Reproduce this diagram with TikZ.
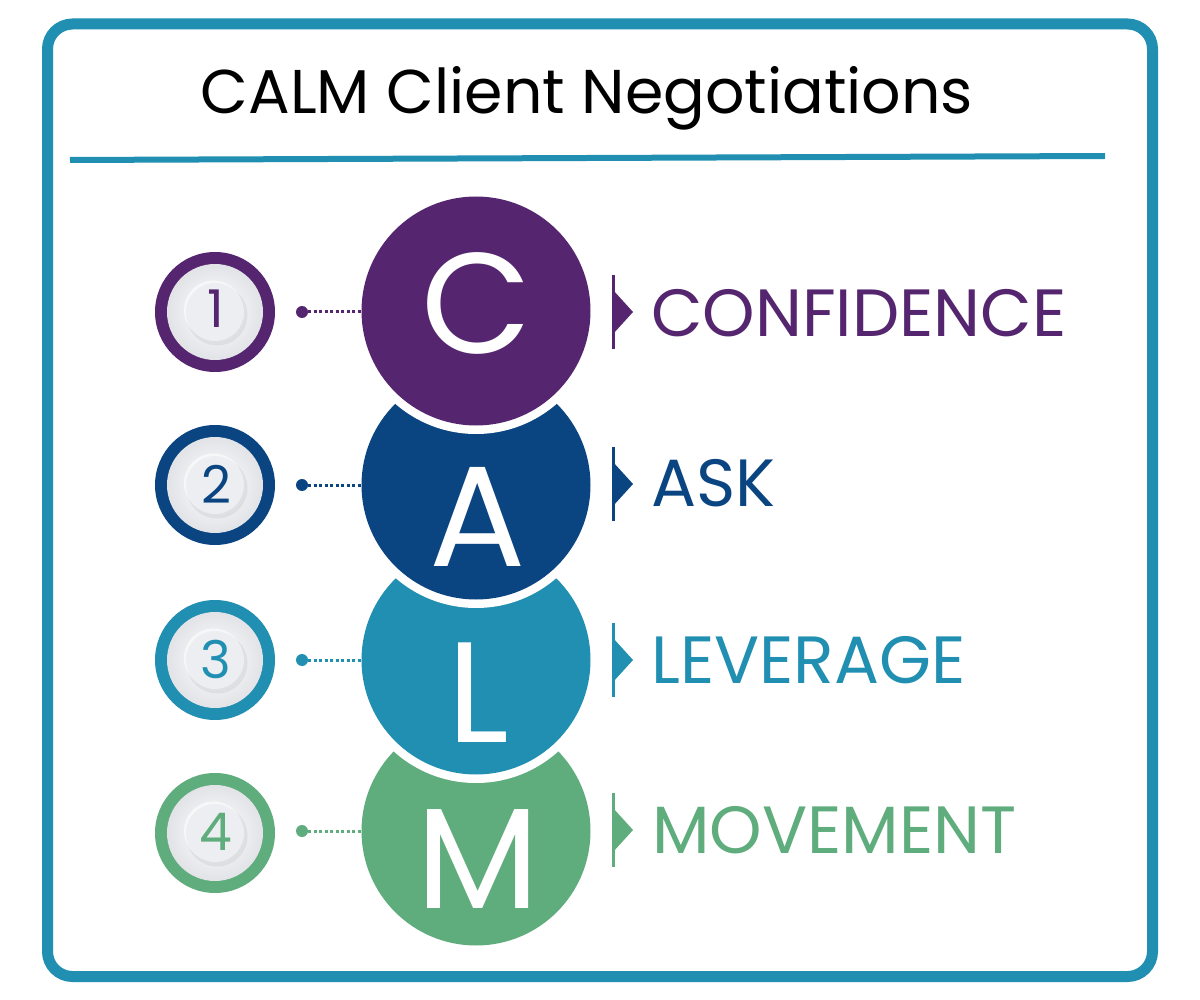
\documentclass[tikz,border=0pt]{standalone}
\usepackage{fontspec}
\setmainfont{Poppins}
\definecolor{cpur}{HTML}{55266F}
\definecolor{cnav}{HTML}{0A4582}
\definecolor{ctea}{HTML}{208FB1}
\definecolor{cgrn}{HTML}{5FAC7D}
\definecolor{bgin}{HTML}{ECEEF2}
\begin{document}
\begin{tikzpicture}[x=1pt,y=-1pt,
  bigc/.style={circle, minimum size=229pt, inner sep=0pt},
  letter/.style={anchor=base, inner sep=0pt, text=white, font=\fontsize{143}{143}\selectfont},
  ring/.style={circle, minimum size=120pt, inner sep=0pt},
  digit/.style={anchor=base, inner sep=0pt, font=\fontsize{52}{52}\selectfont},
  dotn/.style={circle, minimum size=12pt, inner sep=0pt},
  conn/.style={line width=3pt, dash pattern=on 3pt off 2.5pt},
  lab/.style={anchor=base west, inner sep=0pt, font=\fontsize{66.8}{66.8}\selectfont},
  title/.style={anchor=base, inner sep=0pt, font=\fontsize{61.8}{61.8}\selectfont}
]
\useasboundingbox (0,0) rectangle (1200,1000);
\fill[white] (0,0) rectangle (1200,1000);
% frame
\draw[ctea, line width=11pt, rounded corners=25pt] (47.5,24) rectangle (1152.5,976.5);
\node[title] (title) at (587,114) {CALM Client Negotiations};
\draw[ctea, line width=6pt] (70,160) -- (1105,156);

% big circles (bottom first)
\node[bigc, fill=cgrn] (bigM) at (476,831) {};
\fill[white] (476,660) circle (123);
\node[bigc, fill=ctea] (bigL) at (476,660) {};
\fill[white] (476,485) circle (123);
\node[bigc, fill=cnav] (bigA) at (476,485) {};
\fill[white] (476,311) circle (123);
\node[bigc, fill=cpur] (bigC) at (476,311) {};
\node[letter] (lC) at (477,354) {C};
\node[letter] (lA) at (478,566) {A};
\node[letter] (lL) at (478,742) {L};
\node[letter] (lM) at (478,908) {M};

% badges
\foreach \y/\c/\n in {312/cpur/1, 485/cnav/2, 660/ctea/3, 833/cgrn/4}{
  \node[ring, fill=\c] (badge\n) at (215,\y) {};
  \shade[inner color=white, outer color=bgin!90!gray] (badge\n.center) circle (48);
  \fill[gray, opacity=0.12] ([shift={(2,3)}]badge\n.center) circle (30.5);
  \fill[white, opacity=0.6] ([shift={(-1.5,-2)}]badge\n.center) circle (29.5);
  \fill[bgin] (badge\n.center) circle (29);
}
\node[digit, text=cpur] (n1) at (216,328) {1};
\node[digit, text=cnav] (n2) at (216,503) {2};
\node[digit, text=ctea] (n3) at (216,678) {3};
\node[digit, text=cgrn] (n4) at (216,850) {4};

% dots and connectors
\node[dotn, fill=cpur] (d1) at (302,312) {};
\node[dotn, fill=cnav] (d2) at (302,485) {};
\node[dotn, fill=ctea] (d3) at (302,660) {};
\node[dotn, fill=cgrn] (d4) at (302,831) {};
\draw[conn, cpur] (d1.east) -- (d1.east -| bigC.west);
\draw[conn, cnav] (d2.east) -- (d2.east -| bigA.west);
\draw[conn, ctea] (d3.east) -- (d3.east -| bigL.west);
\draw[conn, cgrn] (d4.east) -- (d4.east -| bigM.west);

% markers
\foreach \y/\c in {312/cpur, 484/cnav, 660/ctea, 830/cgrn}{
  \draw[\c, line width=3pt] (613,\y-37) -- (613,\y+37);
  \fill[\c] (613,\y-22) -- (633,\y) -- (613,\y+22) -- cycle;
}

% labels
\node[lab, text=cpur] (t1) at (651,337) {CONFIDENCE};
\node[lab, text=cnav] (t2) at (651,506) {ASK};
\node[lab, text=ctea] (t3) at (651,683) {LEVERAGE};
\node[lab, text=cgrn] (t4) at (652,853) {MOVEMENT};
\end{tikzpicture}
\end{document}
